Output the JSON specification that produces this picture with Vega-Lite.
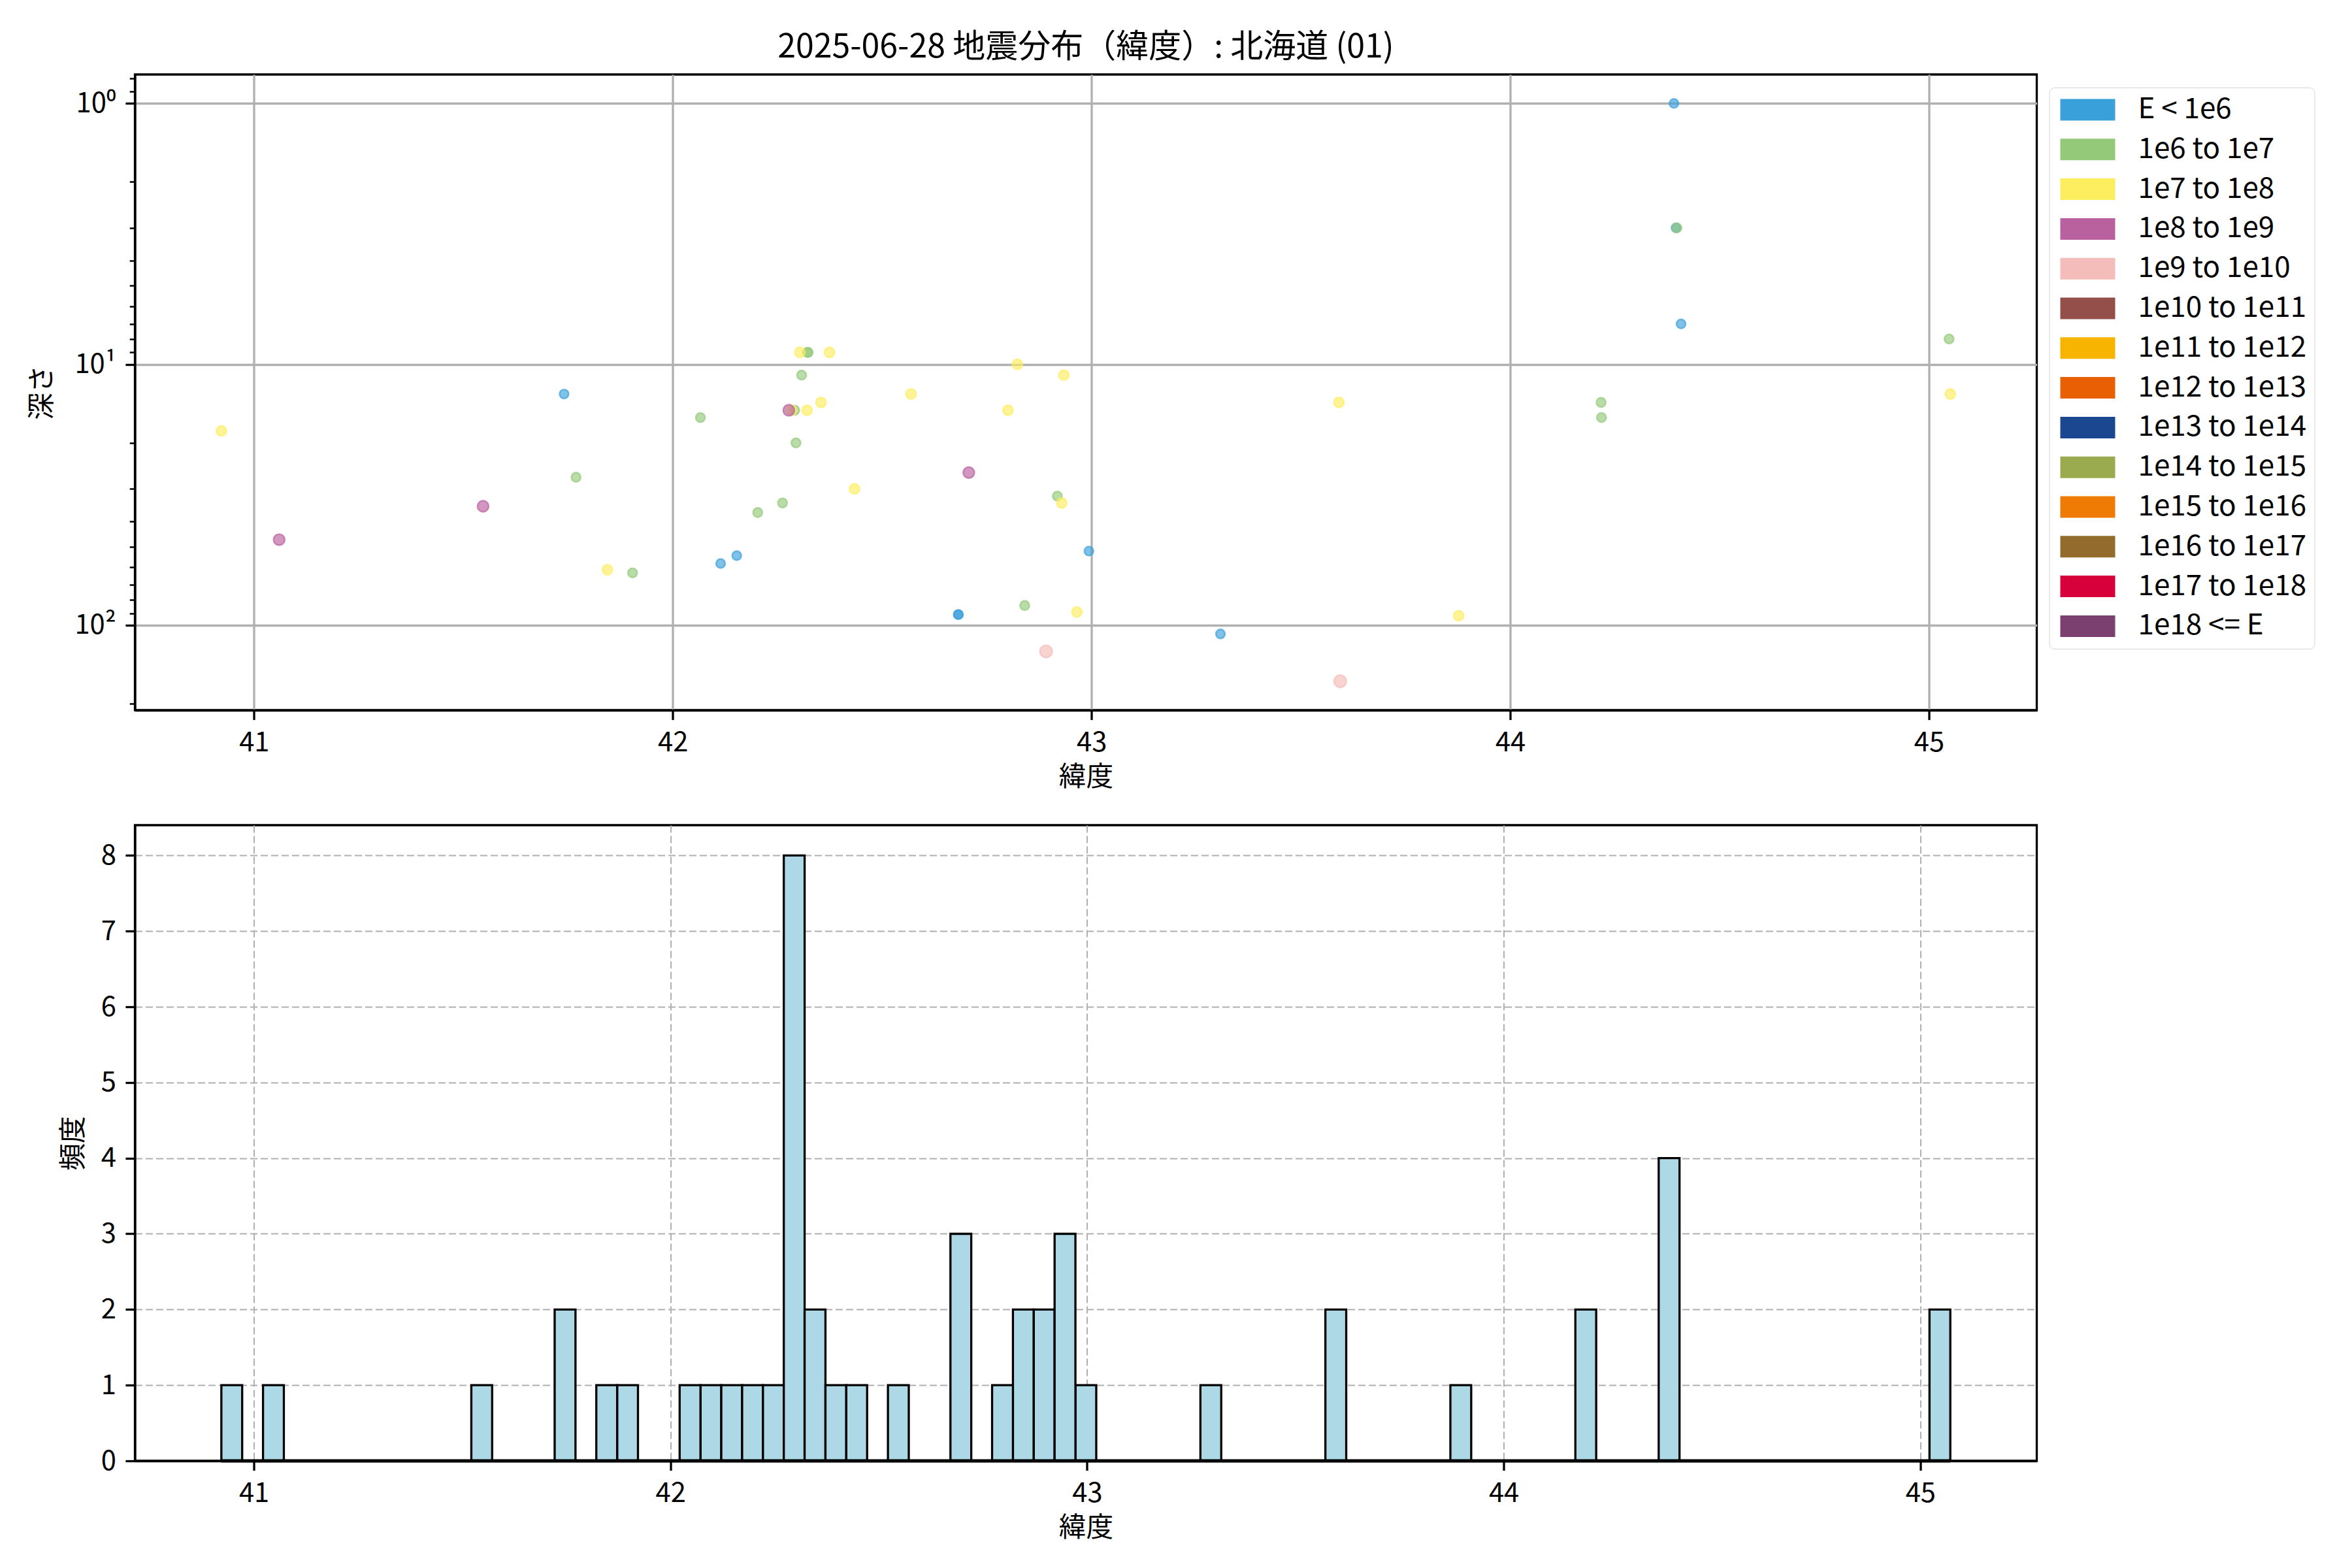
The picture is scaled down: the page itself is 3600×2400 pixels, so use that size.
{
  "$schema": "https://vega.github.io/schema/vega-lite/v6.json",
  "background": "white",
  "padding": {"left": 42.5, "top": 46, "right": 10, "bottom": 10},
  "spacing": 47,
  "datasets": {
    "quakes": [
      {"lat": 41.7405, "depth": 13.0, "E": "E < 1e6"},
      {"lat": 42.1143, "depth": 58.0, "E": "E < 1e6"},
      {"lat": 42.1528, "depth": 54.1, "E": "E < 1e6"},
      {"lat": 42.682, "depth": 91.0, "E": "E < 1e6"},
      {"lat": 42.682, "depth": 91.0, "E": "E < 1e6"},
      {"lat": 42.9939, "depth": 52.0, "E": "E < 1e6"},
      {"lat": 43.308, "depth": 108.0, "E": "E < 1e6"},
      {"lat": 44.391, "depth": 1.0, "E": "E < 1e6"},
      {"lat": 44.396, "depth": 3.0, "E": "E < 1e6"},
      {"lat": 44.408, "depth": 7.0, "E": "E < 1e6"},
      {"lat": 41.769, "depth": 27.1, "E": "1e6 to 1e7"},
      {"lat": 41.904, "depth": 63.0, "E": "1e6 to 1e7"},
      {"lat": 42.066, "depth": 16.0, "E": "1e6 to 1e7"},
      {"lat": 42.2029, "depth": 37.0, "E": "1e6 to 1e7"},
      {"lat": 42.262, "depth": 34.0, "E": "1e6 to 1e7"},
      {"lat": 42.2912, "depth": 15.0, "E": "1e6 to 1e7"},
      {"lat": 42.3078, "depth": 11.0, "E": "1e6 to 1e7"},
      {"lat": 42.2942, "depth": 20.0, "E": "1e6 to 1e7"},
      {"lat": 42.3215, "depth": 9.0, "E": "1e6 to 1e7"},
      {"lat": 42.3235, "depth": 9.0, "E": "1e6 to 1e7"},
      {"lat": 42.8405, "depth": 84.0, "E": "1e6 to 1e7"},
      {"lat": 42.9185, "depth": 32.0, "E": "1e6 to 1e7"},
      {"lat": 44.217, "depth": 14.0, "E": "1e6 to 1e7"},
      {"lat": 44.218, "depth": 16.0, "E": "1e6 to 1e7"},
      {"lat": 44.398, "depth": 3.0, "E": "1e6 to 1e7"},
      {"lat": 45.048, "depth": 8.0, "E": "1e6 to 1e7"},
      {"lat": 40.922, "depth": 18.0, "E": "1e7 to 1e8"},
      {"lat": 41.844, "depth": 61.3, "E": "1e7 to 1e8"},
      {"lat": 42.2835, "depth": 15.0, "E": "1e7 to 1e8"},
      {"lat": 42.3208, "depth": 15.0, "E": "1e7 to 1e8"},
      {"lat": 42.3036, "depth": 9.0, "E": "1e7 to 1e8"},
      {"lat": 42.354, "depth": 14.0, "E": "1e7 to 1e8"},
      {"lat": 42.3743, "depth": 9.0, "E": "1e7 to 1e8"},
      {"lat": 42.434, "depth": 30.0, "E": "1e7 to 1e8"},
      {"lat": 42.569, "depth": 13.0, "E": "1e7 to 1e8"},
      {"lat": 42.8006, "depth": 15.0, "E": "1e7 to 1e8"},
      {"lat": 42.823, "depth": 10.0, "E": "1e7 to 1e8"},
      {"lat": 42.9289, "depth": 34.0, "E": "1e7 to 1e8"},
      {"lat": 42.934, "depth": 11.0, "E": "1e7 to 1e8"},
      {"lat": 42.9652, "depth": 89.0, "E": "1e7 to 1e8"},
      {"lat": 43.591, "depth": 14.0, "E": "1e7 to 1e8"},
      {"lat": 43.877, "depth": 92.0, "E": "1e7 to 1e8"},
      {"lat": 45.051, "depth": 13.0, "E": "1e7 to 1e8"},
      {"lat": 41.06, "depth": 47.0, "E": "1e8 to 1e9"},
      {"lat": 41.547, "depth": 35.0, "E": "1e8 to 1e9"},
      {"lat": 42.2771, "depth": 15.0, "E": "1e8 to 1e9"},
      {"lat": 42.707, "depth": 26.0, "E": "1e8 to 1e9"},
      {"lat": 42.8915, "depth": 126.0, "E": "1e9 to 1e10"},
      {"lat": 43.594, "depth": 164.0, "E": "1e9 to 1e10"}
    ]
  },
  "config": {
    "font": "Noto Sans CJK JP",
    "view": {"stroke": "black", "strokeWidth": 3.3},
    "axis": {
      "labelFont": "Noto Sans CJK JP",
      "titleFont": "Noto Sans CJK JP",
      "labelFontSize": 41.7,
      "titleFontSize": 41.7,
      "titleFontWeight": "normal",
      "labelColor": "black",
      "titleColor": "black",
      "tickColor": "black",
      "tickWidth": 3.3,
      "tickSize": 14.6,
      "labelPadding": 14.6,
      "domainColor": "black",
      "domainWidth": 3.3,
      "zindex": 1
    }
  },
  "vconcat": [
    {
      "width": 2911,
      "height": 973,
      "title": {
        "text": "2025-06-28 地震分布（緯度）: 北海道 (01)",
        "fontSize": 50,
        "fontWeight": "normal",
        "font": "Noto Sans CJK JP",
        "color": "black",
        "anchor": "middle",
        "offset": 16
      },
      "data": {"name": "quakes"},
      "encoding": {
        "x": {
          "field": "lat", "type": "quantitative",
          "scale": {"domain": [40.71555, 45.25745], "nice": false, "zero": false},
          "axis": {"values": [41, 42, 43, 44, 45], "format": "d", "title": "緯度", "grid": true, "gridColor": "#b0b0b0", "gridWidth": 3.3, "titlePadding": 12}
        },
        "y": {
          "field": "depth", "type": "quantitative",
          "scale": {"type": "log", "domain": [0.7748, 211.64], "reverse": true, "nice": false},
          "axis": {
            "title": "深さ",
            "titlePadding": 27,
            "values": [0.8, 0.9, 1, 2, 3, 4, 5, 6, 7, 8, 9, 10, 20, 30, 40, 50, 60, 70, 80, 90, 100, 200],
            "labelExpr": "datum.value == 1 ? '10⁰' : datum.value == 10 ? '10¹' : datum.value == 100 ? '10²' : ''",
            "grid": true,
            "gridColor": "#b0b0b0",
            "gridWidth": 3.3,
            "gridOpacity": {"condition": {"test": "datum.value == 1 || datum.value == 10 || datum.value == 100", "value": 1}, "value": 0},
            "tickSize": {"condition": {"test": "datum.value == 1 || datum.value == 10 || datum.value == 100", "value": 14.6}, "value": 8.3},
            "tickWidth": {"condition": {"test": "datum.value == 1 || datum.value == 10 || datum.value == 100", "value": 3.3}, "value": 2.5}
          }
        },
        "color": {
          "field": "E", "type": "nominal",
          "scale": {
            "domain": ["E < 1e6", "1e6 to 1e7", "1e7 to 1e8", "1e8 to 1e9", "1e9 to 1e10", "1e10 to 1e11", "1e11 to 1e12", "1e12 to 1e13", "1e13 to 1e14", "1e14 to 1e15", "1e15 to 1e16", "1e16 to 1e17", "1e17 to 1e18", "1e18 <= E"],
            "range": ["#3aa0da", "#93c979", "#fdee60", "#b9609f", "#f5bdb9", "#944f4b", "#f7b400", "#e95f04", "#1b4690", "#9aab4f", "#ef7a04", "#936b2c", "#d8003a", "#7b3f70"]
          },
          "legend": {
            "title": null,
            "orient": "none",
            "legendX": 2930,
            "legendY": 20,
            "labelFont": "Noto Sans CJK JP",
            "labelFontSize": 44,
            "labelColor": "black",
            "labelLimit": 0,
            "symbolType": "M-2,-0.786H2V0.786H-2Z",
            "symbolSize": 1764,
            "symbolOffset": 25,
            "symbolStrokeWidth": 0,
            "symbolOpacity": 1,
            "labelOffset": 55,
            "rowPadding": 16.8,
            "padding": 12,
            "strokeColor": "#d5d5d5",
            "fillColor": "white",
            "cornerRadius": 8,
            "encode": {
              "symbols": {"update": {"fillOpacity": {"value": 1}, "opacity": {"value": 1}, "strokeWidth": {"value": 0}}}
            }
          }
        },
        "stroke": {
          "field": "E", "type": "nominal",
          "scale": {
            "domain": ["E < 1e6", "1e6 to 1e7", "1e7 to 1e8", "1e8 to 1e9", "1e9 to 1e10", "1e10 to 1e11", "1e11 to 1e12", "1e12 to 1e13", "1e13 to 1e14", "1e14 to 1e15", "1e15 to 1e16", "1e16 to 1e17", "1e17 to 1e18", "1e18 <= E"],
            "range": ["#3aa0da", "#93c979", "#fdee60", "#b9609f", "#f5bdb9", "#944f4b", "#f7b400", "#e95f04", "#1b4690", "#9aab4f", "#ef7a04", "#936b2c", "#d8003a", "#7b3f70"]
          },
          "legend": null
        }
      },
      "layer": [
        {
          "transform": [{"filter": {"field": "E", "oneOf": ["E < 1e6"]}}],
          "mark": {"type": "point", "filled": true, "size": 195, "fillOpacity": 0.65, "strokeOpacity": 0.65, "strokeWidth": 2.5}
        },
        {
          "transform": [{"filter": {"field": "E", "oneOf": ["1e6 to 1e7"]}}],
          "mark": {"type": "point", "filled": true, "size": 205, "fillOpacity": 0.65, "strokeOpacity": 0.65, "strokeWidth": 2.5}
        },
        {
          "transform": [{"filter": {"field": "E", "oneOf": ["1e7 to 1e8"]}}],
          "mark": {"type": "point", "filled": true, "size": 240, "fillOpacity": 0.65, "strokeOpacity": 0.65, "strokeWidth": 2.5}
        },
        {
          "transform": [{"filter": {"field": "E", "oneOf": ["1e8 to 1e9"]}}],
          "mark": {"type": "point", "filled": true, "size": 295, "fillOpacity": 0.65, "strokeOpacity": 0.65, "strokeWidth": 2.5}
        },
        {
          "transform": [{"filter": {"field": "E", "oneOf": ["1e9 to 1e10"]}}],
          "mark": {"type": "point", "filled": true, "size": 355, "fillOpacity": 0.65, "strokeOpacity": 0.65, "strokeWidth": 2.5}
        }
      ]
    },
    {
      "width": 2911,
      "height": 973,
      "data": {"name": "quakes"},
      "layer": [
        {
          "transform": [
            {"bin": {"extent": [40.922, 45.1], "step": 0.05, "nice": false}, "field": "lat", "as": "b"},
            {"aggregate": [{"op": "count", "as": "n"}], "groupby": ["b", "b_end"]}
          ],
          "mark": {"type": "rect", "fill": "#add8e6", "stroke": "black", "strokeWidth": 3.3},
          "encoding": {
            "x": {
              "field": "b", "type": "quantitative",
              "scale": {"domain": [40.7145, 45.2795], "nice": false, "zero": false},
              "axis": {"values": [41, 42, 43, 44, 45], "format": "d", "title": "緯度", "grid": true, "gridColor": "#b0b0b0", "gridWidth": 2, "gridDash": [11, 5], "titlePadding": 12}
            },
            "x2": {"field": "b_end"},
            "y": {
              "field": "n", "type": "quantitative",
              "scale": {"domain": [0, 8.4], "nice": false},
              "axis": {"values": [0, 1, 2, 3, 4, 5, 6, 7, 8], "format": "d", "title": "頻度", "grid": true, "gridColor": "#b0b0b0", "gridWidth": 2, "gridDash": [11, 5], "titlePadding": 20}
            },
            "y2": {"datum": 0}
          }
        },
        {
          "data": {"values": [{}]},
          "mark": {"type": "rule", "stroke": "black", "strokeWidth": 5},
          "encoding": {
            "x": {"datum": 40.922},
            "x2": {"datum": 45.072},
            "y": {"datum": 0}
          }
        }
      ]
    }
  ]
}
